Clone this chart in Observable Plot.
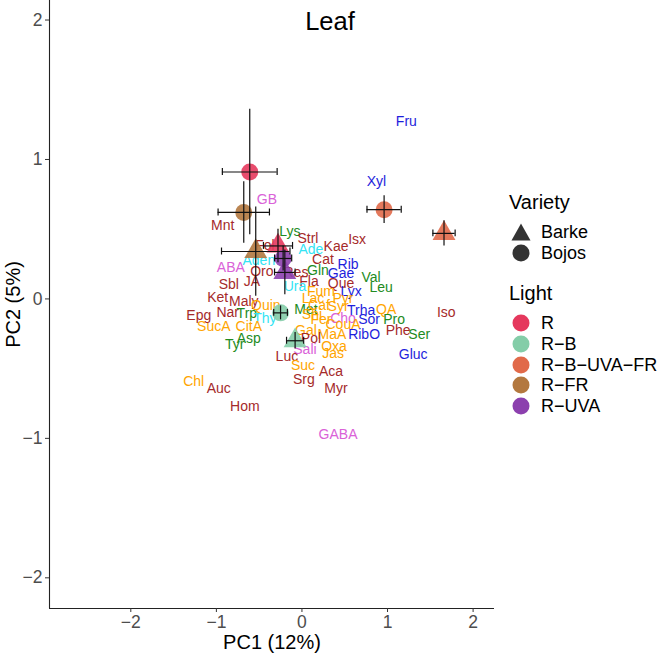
<!DOCTYPE html>
<html>
<head>
<meta charset="utf-8">
<script src="https://cdn.jsdelivr.net/npm/d3@7"></script>
<script src="https://cdn.jsdelivr.net/npm/@observablehq/plot@0.6"></script>
<style>
  body { margin: 0; background: #fff; font-family: "Liberation Sans", Arial, sans-serif; }
  #wrap { position: relative; width: 661px; height: 654px; overflow: hidden; }
  #title { position: absolute; left: 230px; width: 200px; top: 6px; line-height: 30px; text-align: center; font-size: 25.5px; color: #000; }
  .lg { position: absolute; color: #000; white-space: nowrap; }
  .lt { font-size: 20px; line-height: 24px; }
  .li { font-size: 18px; line-height: 20px; display: flex; align-items: center; }
  .li svg { margin-right: 10px; }
</style>
</head>
<body>
<div id="wrap">
  <div id="chart"></div>
  <div id="title">Leaf</div>
  <div id="legend"></div>
</div>
<script>
// ---- Legend / scales ----
const lightLevels = ["R", "R-B", "R-B-UVA-FR", "R-FR", "R-UVA"];
const lightColors = ["#E5385D", "#84CDA8", "#E16A4A", "#B3783F", "#8C40AE"];
const varietyLevels = ["Barke", "Bojos"];
const varietySymbols = ["triangle", "circle"];

// ---- Scores (means with errors) ----
const scoreLight   = ["R", "R", "R-B", "R-B", "R-B-UVA-FR", "R-B-UVA-FR", "R-FR", "R-FR", "R-UVA", "R-UVA"];
const scoreVariety = ["Barke", "Bojos", "Barke", "Bojos", "Barke", "Bojos", "Barke", "Bojos", "Barke", "Bojos"];
const scorePC1     = [-0.28, -0.61, -0.08, -0.25, 1.66, 0.96, -0.54, -0.68, -0.20, -0.22];
const scorePC2     = [0.38, 0.91, -0.30, -0.10, 0.47, 0.64, 0.34, 0.62, 0.19, 0.29];
const scorePC1err  = [0.17, 0.32, 0.10, 0.08, 0.13, 0.20, 0.40, 0.30, 0.12, 0.10];
const scorePC2err  = [0.12, 0.45, 0.06, 0.05, 0.09, 0.10, 0.32, 0.22, 0.16, 0.09];

// ---- Loadings labels ----
const classNames  = ["sugar", "amino", "phenol", "organic", "other", "nucleo"];
const classColors = ["#1E1EDC", "#228B22", "#A52A2A", "#FFA500", "#DA62D8", "#33E4F4"];

const labelName = ["Fru","Xyl","GB","Mnt","Lys","Strl","Isx","Kae","Ade","Fol","Aden","Cat","Rib","ABA","Oro","Res","Gln","Gae","Val","JA","Sbl","Fla","Que","Ura","Leu","Fum","Lyx","Ket","Lac","Pyr","Maly","Quin","Epg","Nar","Trp","Thy","Met","Caf","Syr","Trha","QA","Iso","Shi","Fer","Cho","Sor","Pro","CouA","Gal","MaA","RibO","Phe","Ser","Pol","Oxa","Sali","Jas","Gluc","Luc","Suc","Aca","Srg","Myr","GABA","SucA","CitA","Asp","Tyr","Chl","Auc","Hom"];
const labelClass = ["sugar","sugar","other","phenol","amino","phenol","phenol","phenol","nucleo","phenol","nucleo","phenol","sugar","other","phenol","phenol","amino","sugar","amino","phenol","phenol","phenol","phenol","nucleo","amino","organic","sugar","phenol","organic","organic","phenol","organic","phenol","phenol","amino","nucleo","amino","organic","organic","sugar","organic","phenol","organic","organic","other","sugar","amino","organic","organic","organic","sugar","phenol","amino","phenol","organic","other","organic","sugar","phenol","organic","phenol","phenol","phenol","other","organic","organic","amino","amino","organic","phenol","phenol"];
const labelPC1 = [1.22,0.87,-0.41,-0.925,-0.14,0.07,0.644,0.398,0.105,-0.433,-0.504,0.246,0.539,-0.831,-0.468,-0.07,0.187,0.457,0.808,-0.585,-0.855,0.082,0.457,-0.082,0.925,0.222,0.574,-0.984,0.129,0.48,-0.679,-0.422,-1.206,-0.867,-0.644,-0.433,0.047,0.199,0.422,0.691,0.984,1.686,0.117,0.222,0.48,0.785,1.077,0.48,0.047,0.351,0.726,1.124,1.37,0.105,0.375,0.035,0.363,1.30,-0.176,0.012,0.34,0.023,0.398,0.422,-1.03,-0.621,-0.621,-0.785,-1.265,-0.972,-0.667];
const labelPC2 = [1.273,0.842,0.712,0.525,0.482,0.432,0.424,0.374,0.353,0.381,0.273,0.281,0.245,0.223,0.194,0.187,0.201,0.18,0.151,0.122,0.10,0.122,0.108,0.086,0.079,0.05,0.05,0.007,0.0,0.0,-0.022,-0.05,-0.122,-0.10,-0.108,-0.137,-0.079,-0.05,-0.058,-0.086,-0.079,-0.094,-0.115,-0.151,-0.144,-0.151,-0.151,-0.187,-0.23,-0.252,-0.252,-0.23,-0.252,-0.281,-0.338,-0.36,-0.388,-0.396,-0.41,-0.475,-0.518,-0.576,-0.64,-0.971,-0.201,-0.201,-0.281,-0.324,-0.59,-0.64,-0.77];

// ---- Axis ticks ----
const xTicks = [-2, -1, 0, 1, 2];
const yTicks = [-2, -1, 0, 1, 2];
const xDomain = [-2.95, 2.25];
const yDomain = [-2.22, 2.14];

const scores = scorePC1.map((x, i) => ({
  light: scoreLight[i], variety: scoreVariety[i], x, y: scorePC2[i], xe: scorePC1err[i], ye: scorePC2err[i]
}));
const labels = labelName.map((n, i) => ({name: n, cls: labelClass[i], x: labelPC1[i], y: labelPC2[i]}));
const clsColor = new Map(classNames.map((c, i) => [c, classColors[i]]));
const capH = 0.025;
const fmt = d => d < 0 ? "\u2212" + Math.abs(d) : String(d);

const plot = Plot.plot({
  width: 661,
  height: 654,
  marginLeft: 49,
  marginRight: 167,
  marginTop: 0,
  marginBottom: 46,
  style: {fontFamily: "'Liberation Sans', Arial, sans-serif", background: "#fff"},
  x: {domain: xDomain, ticks: xTicks, tickFormat: fmt},
  y: {domain: yDomain, ticks: yTicks, tickFormat: fmt},
  color: {domain: lightLevels, range: lightColors},
  symbol: {domain: varietyLevels, range: varietySymbols},
  marks: [
    Plot.ruleX([xDomain[0]], {stroke: "#222", strokeWidth: 1.1}),
    Plot.ruleY([yDomain[0]], {stroke: "#222", strokeWidth: 1.1}),
    Plot.axisX({ticks: xTicks, tickSize: 4, tickPadding: 3, fontSize: 17.5, fill: "#4D4D4D", stroke: "#333",
      label: "PC1 (12%)", labelAnchor: "center", labelArrow: "none", labelOffset: 40, tickFormat: fmt}),
    Plot.axisY({ticks: yTicks, tickSize: 4, tickPadding: 3, fontSize: 17.5, fill: "#4D4D4D", stroke: "#333",
      label: "PC2 (5%)", labelAnchor: "center", labelArrow: "none", labelOffset: 44, tickFormat: fmt}),
    Plot.text(labels, {x: "x", y: "y", text: "name", fill: d => clsColor.get(d.cls), fontSize: 14}),
    Plot.dot(scores, {x: "x", y: "y", fill: "light", symbol: "variety", r: 8.5, fillOpacity: 0.9, stroke: "none"}),
    Plot.ruleY(scores, {y: "y", x1: d => d.x - d.xe, x2: d => d.x + d.xe, stroke: "#111", strokeWidth: 1.2}),
    Plot.ruleX(scores, {x: "x", y1: d => d.y - d.ye, y2: d => d.y + d.ye, stroke: "#111", strokeWidth: 1.2}),
    Plot.ruleX(scores, {x: d => d.x - d.xe, y1: d => d.y - capH, y2: d => d.y + capH, stroke: "#111", strokeWidth: 1.2}),
    Plot.ruleX(scores, {x: d => d.x + d.xe, y1: d => d.y - capH, y2: d => d.y + capH, stroke: "#111", strokeWidth: 1.2})
  ]
});
plot.querySelectorAll("[aria-label='x-axis label'] text, [aria-label='y-axis label'] text").forEach(t => {
  t.setAttribute("fill", "#000"); t.style.fontSize = "20px";
});
plot.querySelectorAll("[aria-label='x-axis label'], [aria-label='y-axis label']").forEach(g => {
  g.setAttribute("fill", "#000"); g.setAttribute("font-size", "20");
});
document.getElementById("chart").appendChild(plot);

// ---- HTML legend ----
const lg = document.getElementById("legend");
function sym(kind, color) {
  const s = kind === "triangle"
    ? `<path d="M10,1.5 L19.5,18.5 L0.5,18.5 Z" fill="${color}"/>`
    : `<circle cx="10" cy="10" r="8.5" fill="${color}"/>`;
  return `<svg width="20" height="20" viewBox="0 0 20 20">${s}</svg>`;
}
const legLeft = 509;
let html = "";
html += `<div class="lg lt" style="left:${legLeft}px;top:${202 - 12}px">Variety</div>`;
varietyLevels.forEach((v, i) => {
  html += `<div class="lg li" style="left:${legLeft + 2}px;top:${232 + i * 20.5 - 10}px">${sym(varietySymbols[i], "#333")}<span>${v}</span></div>`;
});
html += `<div class="lg lt" style="left:${legLeft}px;top:${293 - 12}px">Light</div>`;
lightLevels.forEach((l, i) => {
  html += `<div class="lg li" style="left:${legLeft + 2}px;top:${323 + i * 20.8 - 10}px">${sym("circle", lightColors[i])}<span>${l.replace(/-/g, "\u2212")}</span></div>`;
});
lg.innerHTML = html;
</script>
</body>
</html>
